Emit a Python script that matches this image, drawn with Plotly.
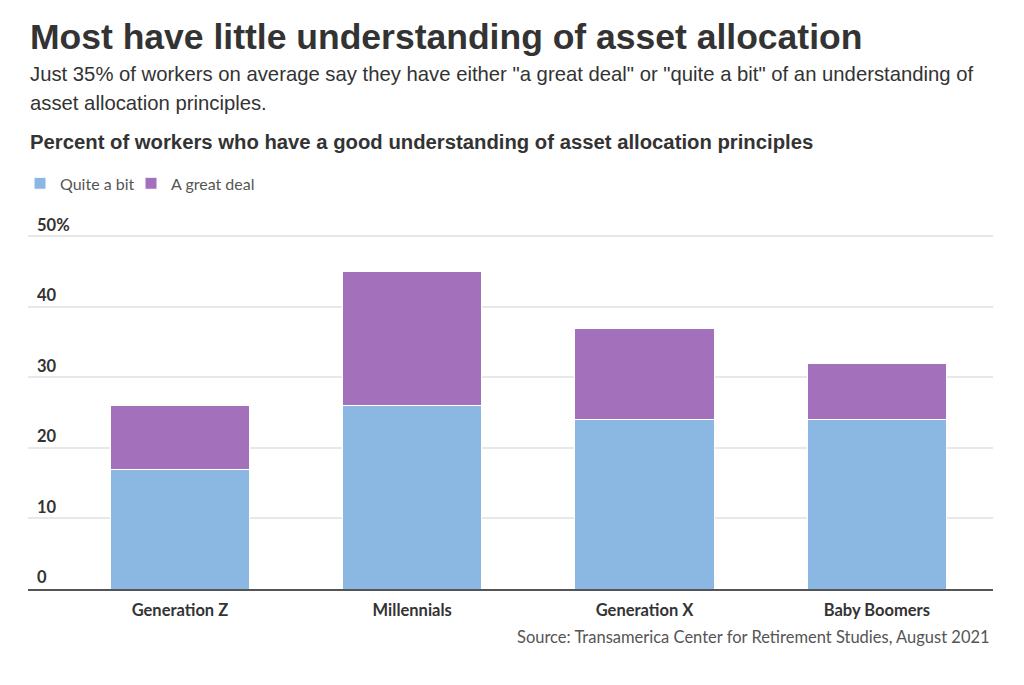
import plotly.graph_objects as go

categories = ["Generation Z", "Millennials", "Generation X", "Baby Boomers"]
quite_a_bit = [17, 26, 24, 24]
great_deal = [9, 19, 13, 8]
y_ticks = [0, 10, 20, 30, 40, 50]
y_tick_labels = ["0", "10", "20", "30", "40", "50%"]

W, H = 1024, 685
OFF = 8  # page offset of the figure inside the browser
L, R = 28 - OFF, 993 - OFF
B = 589 - OFF
Y50 = 236 - OFF
YMAX = 56
T = B - YMAX * (B - Y50) / 50

def px(x):
    return (x - OFF - L) / (R - L)

def py(y):
    return (B - (y - OFF)) / (B - T)

fig = go.Figure()
fig.add_bar(x=list(range(4)), y=quite_a_bit, name="Quite a bit", legend="legend",
            marker=dict(color="#8BB8E2", line=dict(color="white", width=1)), width=0.6)
fig.add_bar(x=list(range(4)), y=great_deal, name="A great deal", legend="legend2",
            marker=dict(color="#A370BC", line=dict(color="white", width=1)), width=0.6)

LATO = "Lato"
leg_common = dict(orientation="h", y=py(183), xanchor="left", yanchor="middle",
                  font=dict(family=LATO, size=16, color="#555"), itemwidth=30,
                  bgcolor="rgba(0,0,0,0)")
fig.update_layout(
    width=W, height=H, barmode="stack",
    margin=dict(l=L, r=W - R, t=T, b=H - B, pad=0),
    plot_bgcolor="white", paper_bgcolor="white",
    showlegend=True,
    legend=dict(x=px(20), **leg_common),
    legend2=dict(x=px(131), **leg_common),
    xaxis=dict(range=[-0.654, 3.5], tickmode="array", tickvals=list(range(4)), ticktext=categories,
               showgrid=False, showline=True, linecolor="#555", linewidth=2,
               tickfont=dict(family=LATO, size=16.5, color="#333", weight="bold"),
               ticks="", ticklabelstandoff=5, fixedrange=True),
    yaxis=dict(range=[0, YMAX], tickmode="array", tickvals=y_ticks, ticktext=y_tick_labels,
               showgrid=True, gridcolor="#e8e8e8", gridwidth=1.5, zeroline=False,
               ticklabelposition="inside top", ticks="", ticklabelstandoff=6,
               tickfont=dict(family=LATO, size=16.5, color="#333", weight="bold"),
               fixedrange=True),
)

ann = [
    dict(text="<b>Most have little understanding of asset allocation</b>", x=px(28), y=py(36),
         font=dict(family="Liberation Sans", size=35.5, color="#333")),
    dict(text='Just 35% of workers on average say they have either "a great deal" or "quite a bit" of an understanding of',
         x=px(28), y=py(74), font=dict(family="Liberation Sans", size=20.3, color="#333")),
    dict(text="asset allocation principles.", x=px(28), y=py(103),
         font=dict(family="Liberation Sans", size=20.3, color="#333")),
    dict(text="<b>Percent of workers who have a good understanding of asset allocation principles</b>",
         x=px(28), y=py(142), font=dict(family="Liberation Sans", size=20.3, color="#333")),
]
for a in ann:
    fig.add_annotation(xref="paper", yref="paper", xanchor="left", yanchor="middle",
                       showarrow=False, **a)
fig.add_annotation(xref="paper", yref="paper", x=px(992), y=py(637), xanchor="right", yanchor="middle",
                   showarrow=False, text="Source: Transamerica Center for Retirement Studies, August 2021",
                   font=dict(family=LATO, size=16.5, color="#555"))

fig.write_html("out.html")
